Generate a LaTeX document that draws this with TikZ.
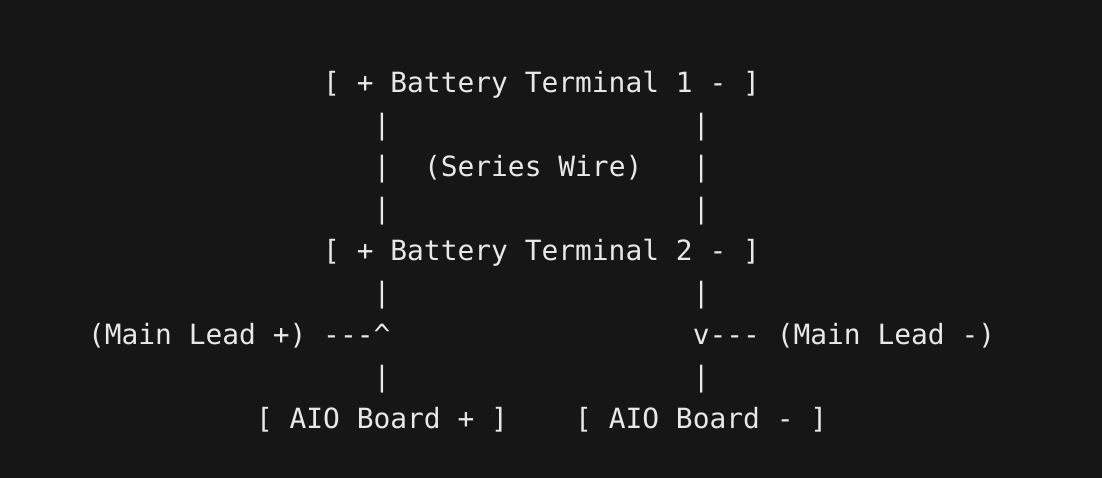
\documentclass[tikz,border=0pt]{standalone}
\usepackage{fontspec}
\newfontfamily\asciimono{DejaVu Sans Mono}
\definecolor{bgcol}{HTML}{161616}
\definecolor{fgcol}{HTML}{E8E8E8}
\newcommand\asciicell[4]{\node[txt] (#1) at ({88+#2*16.8},{478-93-42*#3}) {#4};}
\begin{document}
\begin{tikzpicture}[x=1pt,y=1pt,
  txt/.style={anchor=base west,inner sep=0pt,outer sep=0pt,text=fgcol,
    font=\asciimono\fontsize{27.9pt}{42pt}\selectfont}]
\fill[bgcol] (0,0) rectangle (1102,478);
\useasboundingbox (0,0) rectangle (1102,478);
% row 0
\asciicell{bt1}{14}{0}{[ + Battery Terminal 1 - ]}
% row 1-3
\asciicell{p1l}{17}{1}{|}
\asciicell{p1r}{36}{1}{|}
\asciicell{p2l}{17}{2}{|}
\asciicell{sw}{20}{2}{(Series Wire)}
\asciicell{p2r}{36}{2}{|}
\asciicell{p3l}{17}{3}{|}
\asciicell{p3r}{36}{3}{|}
% row 4
\asciicell{bt2}{14}{4}{[ + Battery Terminal 2 - ]}
% row 5
\asciicell{p5l}{17}{5}{|}
\asciicell{p5r}{36}{5}{|}
% row 6
\asciicell{mlp}{0}{6}{(Main Lead +)}
\asciicell{arl}{14}{6}{-\kern0pt-\kern0pt-\kern0pt\textasciicircum}
\asciicell{arr}{36}{6}{v\kern0pt-\kern0pt-\kern0pt-}
\asciicell{mln}{41}{6}{(Main Lead -)}
% row 7
\asciicell{p7l}{17}{7}{|}
\asciicell{p7r}{36}{7}{|}
% row 8
\asciicell{aiop}{10}{8}{[ AIO Board + ]}
\asciicell{aion}{29}{8}{[ AIO Board - ]}
\end{tikzpicture}
\end{document}
